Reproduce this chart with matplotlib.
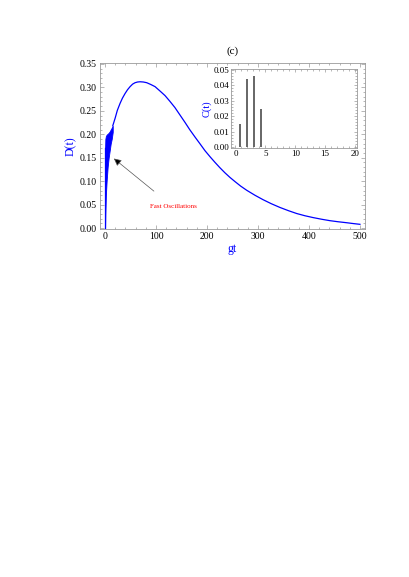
import matplotlib
matplotlib.use("Agg")
import matplotlib.pyplot as plt
from matplotlib.ticker import MultipleLocator

plt.rcParams['font.family'] = ['Liberation Serif', 'DejaVu Serif']

# fast oscillation band near t=0 (lower/upper envelope)
band_t = [0, 0.5, 1.5, 3, 5, 7, 9, 11, 13, 15]
band_lo = [0.0, 0.03, 0.07, 0.10, 0.13, 0.15, 0.165, 0.18, 0.19, 0.205]
band_hi = [0.17, 0.19, 0.196, 0.199, 0.201, 0.203, 0.206, 0.210, 0.214, 0.218]

# smooth part of D(t)
t_main = [15, 19.6, 24, 29.4, 34, 39.2, 44, 49, 54, 58.8, 63.7, 68.6, 75, 81.7,
          90, 98, 108, 117.6, 127, 137, 147, 157, 166, 176.5, 186, 196, 206,
          215.7, 225, 235, 245, 255, 266, 278, 294, 310, 326, 343, 360, 376,
          392, 408, 425, 441, 457, 474, 487, 500]
d_main = [0.218, 0.234, 0.251, 0.266, 0.277, 0.287, 0.295, 0.3016, 0.307, 0.310,
          0.3115, 0.312, 0.3115, 0.310, 0.306, 0.3016, 0.292, 0.2825, 0.2705,
          0.257, 0.241, 0.225, 0.210, 0.194, 0.180, 0.165, 0.152, 0.140, 0.129,
          0.118, 0.108, 0.099, 0.0895, 0.0805, 0.0700, 0.0605, 0.0520, 0.0440,
          0.0370, 0.0310, 0.0263, 0.0224, 0.0188, 0.0158, 0.0135, 0.0114,
          0.0096, 0.0080]

# inset C(t) peaks
peak_t = [0.75, 1.9, 3.05, 4.2]
peak_c = [0.0150, 0.0442, 0.0458, 0.0247]

xticks_main = [0, 100, 200, 300, 400, 500]
yticks_main = [0.00, 0.05, 0.10, 0.15, 0.20, 0.25, 0.30, 0.35]
xticks_in = [0, 5, 10, 15, 20]
yticks_in = [0.00, 0.01, 0.02, 0.03, 0.04, 0.05]

blue = '#0000ff'
frame = '#9a9a9a'

fig = plt.figure(figsize=(4.09, 5.77), dpi=100)
ax = fig.add_axes([0.2445, 0.6031, 0.648, 0.2877])

ax.fill_between(band_t, band_lo, band_hi, color=blue, lw=0.6)
ax.plot([band_t[0], band_t[0]], [0, band_hi[0]], color=blue, lw=0.9)
ax.plot(t_main, d_main, color=blue, lw=0.9)

ax.set_xlim(-10, 510)
ax.set_ylim(-0.002, 0.352)
ax.set_xticks(xticks_main)
ax.set_yticks(yticks_main)
ax.set_yticklabels(['%.2f' % v for v in yticks_main])
ax.xaxis.set_minor_locator(MultipleLocator(20))
ax.yaxis.set_minor_locator(MultipleLocator(0.01))
ax.tick_params(which='both', direction='in', top=True, right=True, color=frame,
               width=0.5, labelsize=7)
ax.tick_params(which='major', length=3, pad=2.5)
ax.tick_params(which='minor', length=1.5)
for s in ax.spines.values():
    s.set_color(frame)
    s.set_linewidth(0.6)
ax.set_xlabel('gt', color=blue, fontsize=8.5, labelpad=1)
ax.set_ylabel('D(t)', color=blue, fontsize=8.5, labelpad=2)
ax.set_title('(c)', fontsize=8, pad=7)

ax.annotate('', xy=(13, 0.152), xytext=(100, 0.075),
            arrowprops=dict(arrowstyle='-|>', color='#555555', lw=0.5,
                            mutation_scale=11, fc='black'))
ax.text(134, 0.047, 'Fast Oscillations', color='red', fontsize=5,
        ha='center', va='center')

# inset
ins = fig.add_axes([0.5648, 0.7435, 0.308, 0.137])
ins.vlines(peak_t, 0, peak_c, color='#5a5a5a', lw=1.3)
ins.set_xlim(-0.75, 20.33)
ins.set_ylim(-0.00065, 0.0506)
ins.set_xticks(xticks_in)
ins.set_yticks(yticks_in)
ins.set_yticklabels(['%.2f' % v for v in yticks_in])
ins.xaxis.set_minor_locator(MultipleLocator(1))
ins.yaxis.set_minor_locator(MultipleLocator(0.002))
ins.tick_params(which='both', direction='in', top=True, right=True, color=frame,
                width=0.5, labelsize=6.5)
ins.tick_params(which='major', length=2.5, pad=1.5)
ins.tick_params(which='minor', length=1.2)
for s in ins.spines.values():
    s.set_color(frame)
    s.set_linewidth(0.6)
ins.set_ylabel('C(t)', color=blue, fontsize=7.5, labelpad=1)

fig.savefig('out.png', dpi=100)
